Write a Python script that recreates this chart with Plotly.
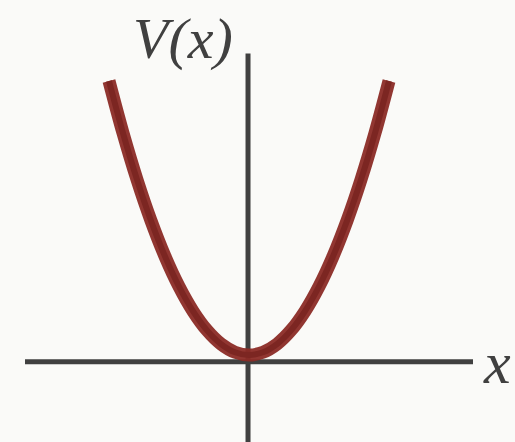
import plotly.graph_objects as go

x_vals = [-1.0, -0.9, -0.8, -0.7, -0.6, -0.5, -0.4, -0.3, -0.2, -0.1, 0.0,
          0.1, 0.2, 0.3, 0.4, 0.5, 0.6, 0.7, 0.8, 0.9, 1.0]
v_vals = [1.0, 0.81, 0.64, 0.49, 0.36, 0.25, 0.16, 0.09, 0.04, 0.01, 0.0,
          0.01, 0.04, 0.09, 0.16, 0.25, 0.36, 0.49, 0.64, 0.81, 1.0]
y_label = "V(x)"
x_label = "x"

BG = "#fafaf8"
AXIS = "#404040"
CURVE = "#8b2b26"

fig = go.Figure()
fig.add_trace(go.Scatter(x=x_vals, y=v_vals, mode="lines",
                         line=dict(color=CURVE, width=13, shape="spline"),
                         opacity=0.95, hoverinfo="skip"))
fig.add_trace(go.Scatter(x=x_vals, y=v_vals, mode="lines",
                         line=dict(color="#7c2622", width=6, shape="spline"),
                         hoverinfo="skip"))

# axes lines
fig.add_shape(type="line", x0=-1.6, x1=1.6, y0=-0.025, y1=-0.025,
              line=dict(color=AXIS, width=5), layer="below")
fig.add_shape(type="line", x0=-0.007, x1=-0.007, y0=-0.35, y1=1.1,
              line=dict(color=AXIS, width=5), layer="below")

fig.add_annotation(x=-0.475, y=1.155, text="<i>" + y_label + "</i>", showarrow=False,
                   font=dict(family="Liberation Serif", size=58, color=AXIS),
                   xanchor="center", yanchor="middle")
fig.add_annotation(x=1.77, y=-0.03, text="<i>" + x_label + "</i>", showarrow=False,
                   font=dict(family="Liberation Serif", size=60, color=AXIS),
                   xanchor="center", yanchor="middle")

fig.update_layout(
    width=515, height=442,
    margin=dict(l=0, r=0, t=0, b=0),
    paper_bgcolor=BG, plot_bgcolor=BG,
    showlegend=False,
    xaxis=dict(range=[-249/140, (515-249)/140], visible=False, fixedrange=True),
    yaxis=dict(range=[-(442-355)/274, 355/274], visible=False, fixedrange=True),
)

fig.write_html("out.html", config={"displayModeBar": False, "staticPlot": True})

# remove default page margins so the figure fills the window
with open("out.html", "r", encoding="utf-8") as f:
    html = f.read()
html = html.replace("<head>", "<head><style>html,body{margin:0;padding:0;background:%s;overflow:hidden}</style>" % BG, 1)
with open("out.html", "w", encoding="utf-8") as f:
    f.write(html)
